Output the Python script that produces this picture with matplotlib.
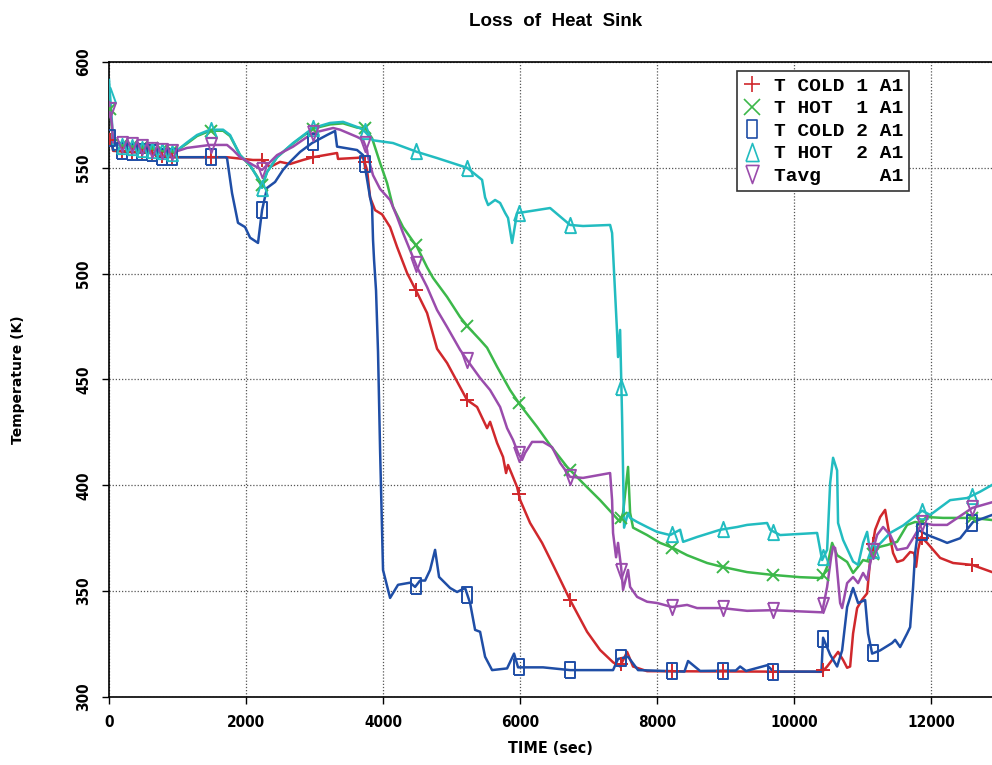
import numpy as np
import matplotlib
matplotlib.use("Agg")
import matplotlib.pyplot as plt
from matplotlib.lines import Line2D

# time (s) / temperature (K)
t_cold1 = [0, 30, 60, 300, 650, 700, 1000, 1723, 2100, 2234, 2351, 2497, 2643, 2832, 2978, 3329, 3343,
           3621, 3708, 3767, 3811, 3884, 3986, 4103, 4205, 4351, 4497, 4643, 4789, 4935, 5227, 5373,
           5519, 5563, 5665, 5752, 5796, 5825, 5884, 5957, 6001, 6147, 6322, 6482, 6731, 6979, 7169,
           7358, 7461, 7563, 7650, 7855, 10410, 10483, 10556, 10643, 10716, 10775, 10819, 10862, 10921,
           10994, 11067, 11111, 11184, 11257, 11330, 11373, 11446, 11505, 11592, 11695, 11753, 11782,
           11811, 11855, 11943, 12133, 12322, 12600, 12892]
T_cold1 = [562, 564, 558, 557.5, 557, 555.5, 555, 555, 553.7, 553.7, 550.4, 552.8, 551.8, 553.7, 555, 557, 554.2,
           554.7, 555, 549, 536, 530, 528, 522, 512.6, 500.3, 491, 481.4, 464.5, 457.8, 440.3, 437,
           427, 430, 420, 413.4, 405.8, 409.6, 405, 399.2, 393.1, 382.2, 372.8, 362.4, 345.8, 330.8, 322.2,
           316.4, 314.4, 321.3, 314.4, 312.2, 311.9, 314.4, 317.5, 321.3, 317.5, 313.8, 314.4, 330, 342,
           346, 349, 364.7, 379, 385, 388.4, 380.3, 368, 363.8, 364.7, 368.5, 368, 361.5,
           369.5, 375.6, 372.8, 365.7, 363.3, 362.4, 359]

t_hot1 = [0, 44, 60, 500, 960, 1000, 1140, 1285, 1475, 1665, 1767, 1913, 2059, 2161, 2234, 2307, 2453,
          2687, 2978, 3227, 3417, 3621, 3738, 3840, 3957, 4059, 4146, 4292, 4497, 4643, 4730, 4935, 5125,
          5241, 5417, 5519, 5665, 5855, 6001, 6249, 6439, 6687, 6920, 7169, 7461, 7504, 7577, 7607, 7650,
          7855, 8045, 8234, 8439, 8731, 8950, 9315, 9680, 10089, 10410, 10483, 10556, 10629, 10775,
          10862, 10935, 11008, 11111, 11184, 11359, 11505, 11651, 11768, 11841, 11943, 12176, 12600, 12892]
T_hot1 = [583, 568, 561, 560, 557.5, 558.4, 561.5, 565, 567.5, 567.5, 565, 556, 551, 546, 542, 548, 555,
          561.5, 568.5, 570.5, 571, 569, 568.8, 564, 552.3, 542.8, 531.5, 522, 512.6, 503, 498, 489, 479.5,
          474.8, 468.7, 465, 456, 445, 438, 427.6, 419, 408.7, 401, 393, 382.7, 387, 408.7, 387, 380,
          376.5, 372.8, 370.4, 367, 363.3, 361.5, 359, 357.7, 356.6, 356.2, 361.5, 372.8, 367, 363.8,
          358.6, 361.5, 364.7, 363.8, 370.4, 371.8, 373.3, 381.3, 382.7, 382.2, 385, 384.6, 384.6, 383.6]

t_cold2 = [0, 30, 60, 300, 650, 700, 1000, 1700, 1723, 1796, 1883, 1986, 2059, 2175, 2234, 2307, 2424,
           2540, 2643, 2789, 2964, 3183, 3300, 3329, 3621, 3708, 3811, 3840, 3854, 3869, 3898, 3927, 3957,
           4000, 4103, 4219, 4395, 4468, 4540, 4614, 4687, 4760, 4818, 4979, 5081, 5198, 5271, 5344, 5417,
           5490, 5592, 5811, 5913, 5971, 6336, 6731, 7358, 7431, 7577, 7723, 8400, 8453, 8629, 9150,
           9213, 9300, 9607, 9700, 10400, 10424, 10527, 10629, 10702, 10775, 10862, 10935, 11038, 11081,
           11140, 11257, 11432, 11476, 11549, 11651, 11695, 11738, 11768, 11811, 11943, 12133, 12235,
           12425, 12614, 12892]
T_cold2 = [565, 563, 558.4, 557.5, 557, 555.3, 555, 555, 554.5, 538, 524, 522, 517, 514.5, 530, 540.5, 543.3,
           549, 552.8, 557.5, 561.7, 565.5, 567.4, 560, 558.4, 556, 536, 531.5, 516, 506.5, 492, 463, 416.7,
           360, 346.8, 353, 354, 352, 355, 355, 360, 369.5, 356.7, 351.5, 349.6, 351.5, 344.4, 331.7, 330.8,
           319, 312.7, 313.5, 320.5, 314, 314, 312.7, 312.7, 318, 319, 312.7, 312, 317, 312.3, 312.5,
           314.4, 312.3, 315, 312, 312, 328, 320, 314.4, 322, 342.5, 351.5, 344.4, 345.8, 330,
           320.5, 322, 325.5, 327, 323.6, 330, 333, 352, 368, 379, 376.6, 374.2, 372.8,
           375, 382.7, 386]

t_hot2 = [0, 44, 58, 300, 700, 960, 1000, 1140, 1285, 1475, 1665, 1767, 1913, 2059, 2161, 2234, 2307,
          2453, 2687, 2978, 3227, 3417, 3621, 3708, 3854, 4146, 4497, 4789, 5227, 5446, 5490, 5534, 5636,
          5709, 5782, 5825, 5884, 5957, 6044, 6439, 6731, 6920, 7315, 7344, 7417, 7431, 7461, 7490, 7519,
          7577, 7607, 7709, 7855, 8001, 8191, 8337, 8381, 8585, 8921, 9169, 9315, 9607, 9651, 9797,
          10337, 10410, 10483, 10527, 10570, 10629, 10643, 10716, 10862, 10935, 11008, 11067, 11111,
          11213, 11403, 11592, 11870, 11987, 12279, 12527, 12717, 12892]
T_hot2 = [591.5, 571, 561, 560, 558, 557, 558.4, 562, 565.5, 568, 568, 565.5, 556, 551.3, 545.7, 540.5, 548,
          555, 561.7, 568.8, 571.2, 571.7, 569.3, 568, 563, 561.7, 557.5, 554.6, 550, 544.3, 536, 532.4, 534.8,
          533.4, 528.7, 526.3, 514.5, 528.7, 529, 531, 523, 522.5, 523, 519.2, 472, 460.6, 473.4, 432, 380,
          387, 384.6, 382.7, 380.3, 378, 376.5, 379, 373.3, 375.6, 379, 380.3, 381.3, 382.2, 379, 376.5,
          377.5, 364.7, 369.5, 401, 413, 407, 382.2, 374.2, 364, 362.4, 372.8, 378, 368.5,
          371, 377.5, 381, 388, 386, 393, 394, 397, 400.2]

t_avg = [0, 44, 60, 400, 700, 960, 1140, 1475, 1723, 1811, 1913, 2103, 2234, 2307, 2453, 2687, 2978, 3271,
         3373, 3621, 3708, 3767, 3781, 3854, 3957, 4103, 4205, 4292, 4497, 4643, 4789, 4935, 5125, 5227,
         5417, 5563, 5709, 5811, 5898, 5971, 6030, 6074, 6176, 6336, 6468, 6585, 6731, 6920, 7315, 7344,
         7358, 7402, 7431, 7475, 7504, 7577, 7607, 7709, 7855, 8001, 8220, 8439, 8585, 8950, 9315, 9680,
         10410, 10483, 10541, 10570, 10600, 10673, 10702, 10775, 10862, 10935, 11008, 11067, 11140, 11213,
         11300, 11403, 11505, 11651, 11738, 11870, 12030, 12235, 12600, 12892]
T_avg = [581, 570, 562, 560.5, 558, 557.5, 559.4, 560.8, 560.8, 558.4, 555, 551.3, 549, 551.3, 556, 560, 566.5, 568.8,
         568, 564.6, 563.2, 558.4, 555, 546.5, 540, 534.8, 526.8, 519.2, 503, 493.7, 482.8, 474.8, 464, 459.2,
         450.7, 445, 437, 427, 421.4, 415.3, 412, 415.3, 420.5, 420.5, 418, 410.6, 404, 403.5, 405.8, 393,
         377.5, 366, 372.8, 361.5, 350.6, 360, 352, 347.3, 345, 344.4, 342.5, 343.5, 342, 342, 340.7, 341,
         340, 352, 366, 371, 370.4, 344.4, 342, 353.8, 356.7, 353.8, 358.6, 355.3, 368, 376.6,
         380.3, 376.6, 369.5, 370.4, 375, 382.2, 381.3, 381.3, 389.3, 392]

mark_times = [15, 190, 340, 480, 630, 770, 920, 1490, 2235, 2980, 3730, 4480, 5230, 5980, 6730,
              7480, 8220, 8960, 9700, 10430, 11150, 11870, 12600]

labels = ["T COLD 1 A1", "T HOT  1 A1", "T COLD 2 A1", "T HOT  2 A1", "Tavg     A1"]
colors = ["#d0282c", "#3cb84a", "#1f4ea6", "#22bcc0", "#9a4cac"]

rect = [(-0.3, -0.5), (0.3, -0.5), (0.3, 0.5), (-0.3, 0.5), (-0.3, -0.5)]
tri_up = [(-0.36, -0.5), (0.36, -0.5), (0.0, 0.5), (-0.36, -0.5)]
tri_dn = [(-0.36, 0.5), (0.36, 0.5), (0.0, -0.5), (-0.36, 0.5)]
markers = ["+", "x", rect, tri_up, tri_dn]
msizes = [10, 9, 11, 11, 11]

series = [(t_cold1, T_cold1), (t_hot1, T_hot1), (t_cold2, T_cold2), (t_hot2, T_hot2), (t_avg, T_avg)]

fig = plt.figure(figsize=(9.92, 7.65), dpi=100)
ax = fig.add_axes([0.1099, 0.0889, 0.8901, 0.8301])

handles = []
for (t, T), c, m, ms, lab in zip(series, colors, markers, msizes, labels):
    ax.plot(t, T, color=c, lw=1.8, zorder=3)
    mt = np.array(mark_times)
    ax.plot(mt, np.interp(mt, t, T), ls="none", marker=m, ms=ms, mfc="none",
            mec=c, mew=1.4, zorder=4)
    handles.append(Line2D([], [], ls="none", marker=m, ms=ms + 2, mfc="none", mec=c, mew=1.2))

ax.set_xlim(0, 12890)
ax.set_ylim(300, 600)
ax.set_xticks(range(0, 12001, 2000))
ax.set_yticks(range(300, 601, 50))
ax.grid(True, color="#555555", ls=(0, (1, 1.5)), lw=0.9)
ax.spines["right"].set_visible(False)
for s in ["left", "bottom", "top"]:
    ax.spines[s].set_linewidth(1.2)
ax.tick_params(direction="out", length=5, width=1, pad=8)

tick_font = dict(family="DejaVu Sans", weight="bold", stretch="condensed", size=11)
for lab in ax.get_xticklabels():
    lab.set(**tick_font)
for lab in ax.get_yticklabels():
    lab.set(**tick_font)
    lab.set_rotation(90)
    lab.set_va("center")

ax.set_xlabel("TIME (sec)", fontsize=11.5, fontweight="bold", fontstretch="condensed", labelpad=8)
ax.set_ylabel("Temperature (K)", fontsize=10, fontweight="bold")
ax.yaxis.set_label_coords(-0.095, 0.5)
fig.text(0.5605, 0.972, "Loss  of  Heat  Sink", ha="center", va="center",
         fontsize=13.5, fontweight="bold", family="Liberation Sans")

leg = ax.legend(handles, labels, loc="upper left", bbox_to_anchor=(0.711, 0.985),
                prop=dict(family="Liberation Mono", weight="bold", size=14),
                frameon=True, fancybox=False, edgecolor="#333333", framealpha=1,
                handlelength=1.0, handletextpad=0.6, labelspacing=0.25, borderpad=0.3,
                borderaxespad=0)
leg.get_frame().set_linewidth(1.2)

fig.savefig("out.png", dpi=100)
